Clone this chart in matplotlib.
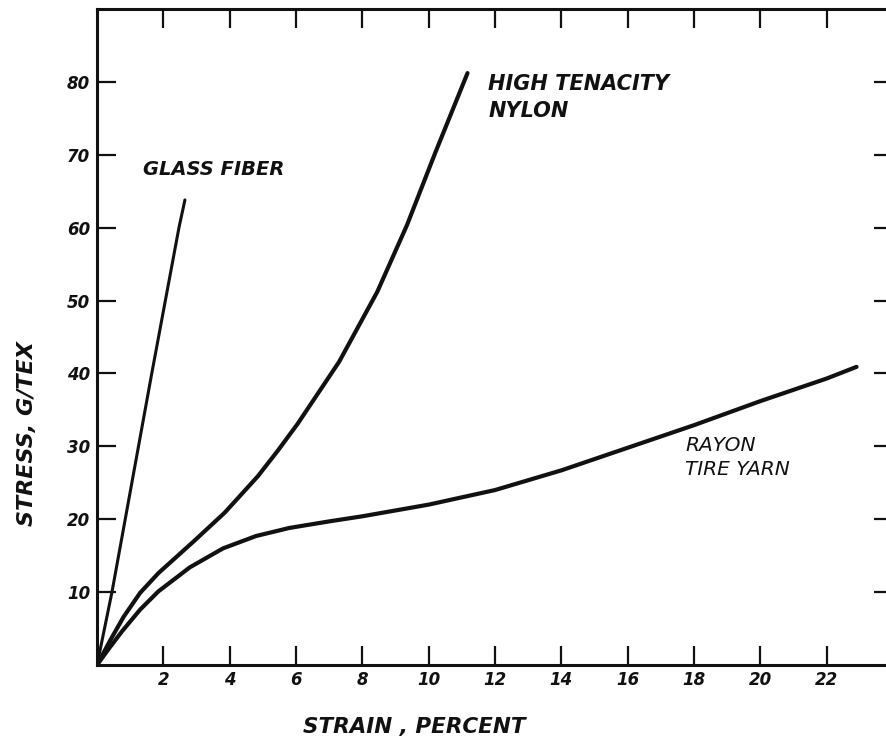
import numpy as np
import matplotlib
matplotlib.use('Agg')
import matplotlib.pyplot as plt

# Stress-strain curves (strain %, stress g/tex)
glass_strain = [0, 0.45, 0.85, 1.25, 1.65, 2.06, 2.47, 2.65]
glass_stress = [0, 10, 20, 30, 40, 50, 60, 63.8]

nylon_strain = [0, 0.4, 0.8, 1.3, 1.85, 2.9, 3.85, 4.85, 5.45, 6.05,
                7.3, 8.45, 9.35, 10.2, 11.17]
nylon_stress = [0, 3.4, 6.6, 9.9, 12.6, 16.9, 20.9, 25.9, 29.4, 33.1,
                41.6, 51.2, 60.4, 70.3, 81.2]

rayon_strain = [0, 0.35, 0.75, 1.3, 1.85, 2.8, 3.8, 4.8, 5.8, 7, 8,
                10, 12, 14, 16, 18, 20, 22, 22.9]
rayon_stress = [0, 2.2, 4.6, 7.6, 10.1, 13.4, 16.0, 17.7, 18.8, 19.7, 20.4,
                22, 24, 26.7, 29.8, 32.9, 36.2, 39.3, 40.9]

x_ticks = [2, 4, 6, 8, 10, 12, 14, 16, 18, 20, 22]
y_ticks = [10, 20, 30, 40, 50, 60, 70, 80]

ink = '#111111'
font = dict(family='DejaVu Sans', style='italic', weight='bold', color=ink)

fig = plt.figure(figsize=(8.87, 7.46), dpi=100, facecolor='white')
# right spine sits just past the figure edge, as in the scan
ax = fig.add_axes([0.1094, 0.1086, 0.8974, 0.8794])

ax.plot(glass_strain, glass_stress, color=ink, linewidth=2.2,
        solid_capstyle='round', solid_joinstyle='round')
ax.plot(nylon_strain, nylon_stress, color=ink, linewidth=3.0,
        solid_capstyle='round', solid_joinstyle='round')
ax.plot(rayon_strain, rayon_stress, color=ink, linewidth=3.0,
        solid_capstyle='round', solid_joinstyle='round')

ax.set_xlim(0, 24)
ax.set_ylim(0, 90)
ax.set_xticks(x_ticks)
ax.set_yticks(y_ticks)
ax.tick_params(direction='in', length=14, width=1.6, colors=ink,
               top=True, right=True, labelsize=12)
ax.tick_params(axis='x', pad=4)
ax.tick_params(axis='y', pad=5)
for lbl in ax.get_xticklabels() + ax.get_yticklabels():
    lbl.set_fontstyle('italic')
    lbl.set_fontweight('bold')

for side in ['left', 'bottom', 'top', 'right']:
    ax.spines[side].set_linewidth(2.2)
    ax.spines[side].set_color(ink)

ax.set_xlabel('STRAIN , PERCENT', fontsize=15.5, va='center', **font)
ax.xaxis.set_label_coords(0.398, -0.0945)
ax.set_ylabel('STRESS, G/TEX', fontsize=16, va='center', **font)
ax.yaxis.set_label_coords(-0.088, 0.352)

# curve labels
ax.text(1.39, 67.2, 'GLASS FIBER', fontsize=14, va='baseline', **font)
ax.text(11.8, 78.9, 'HIGH TENACITY', fontsize=15, va='baseline', **font)
ax.text(11.8, 75.2, 'NYLON', fontsize=15, va='baseline', **font)
thin = dict(family='DejaVu Sans', style='italic', color=ink)
ax.text(17.74, 29.3, 'RAYON', fontsize=14.5, va='baseline', **thin)
ax.text(17.74, 26.1, 'TIRE YARN', fontsize=14.5, va='baseline', **thin)

plt.savefig('out.png', dpi=100, facecolor='white')
